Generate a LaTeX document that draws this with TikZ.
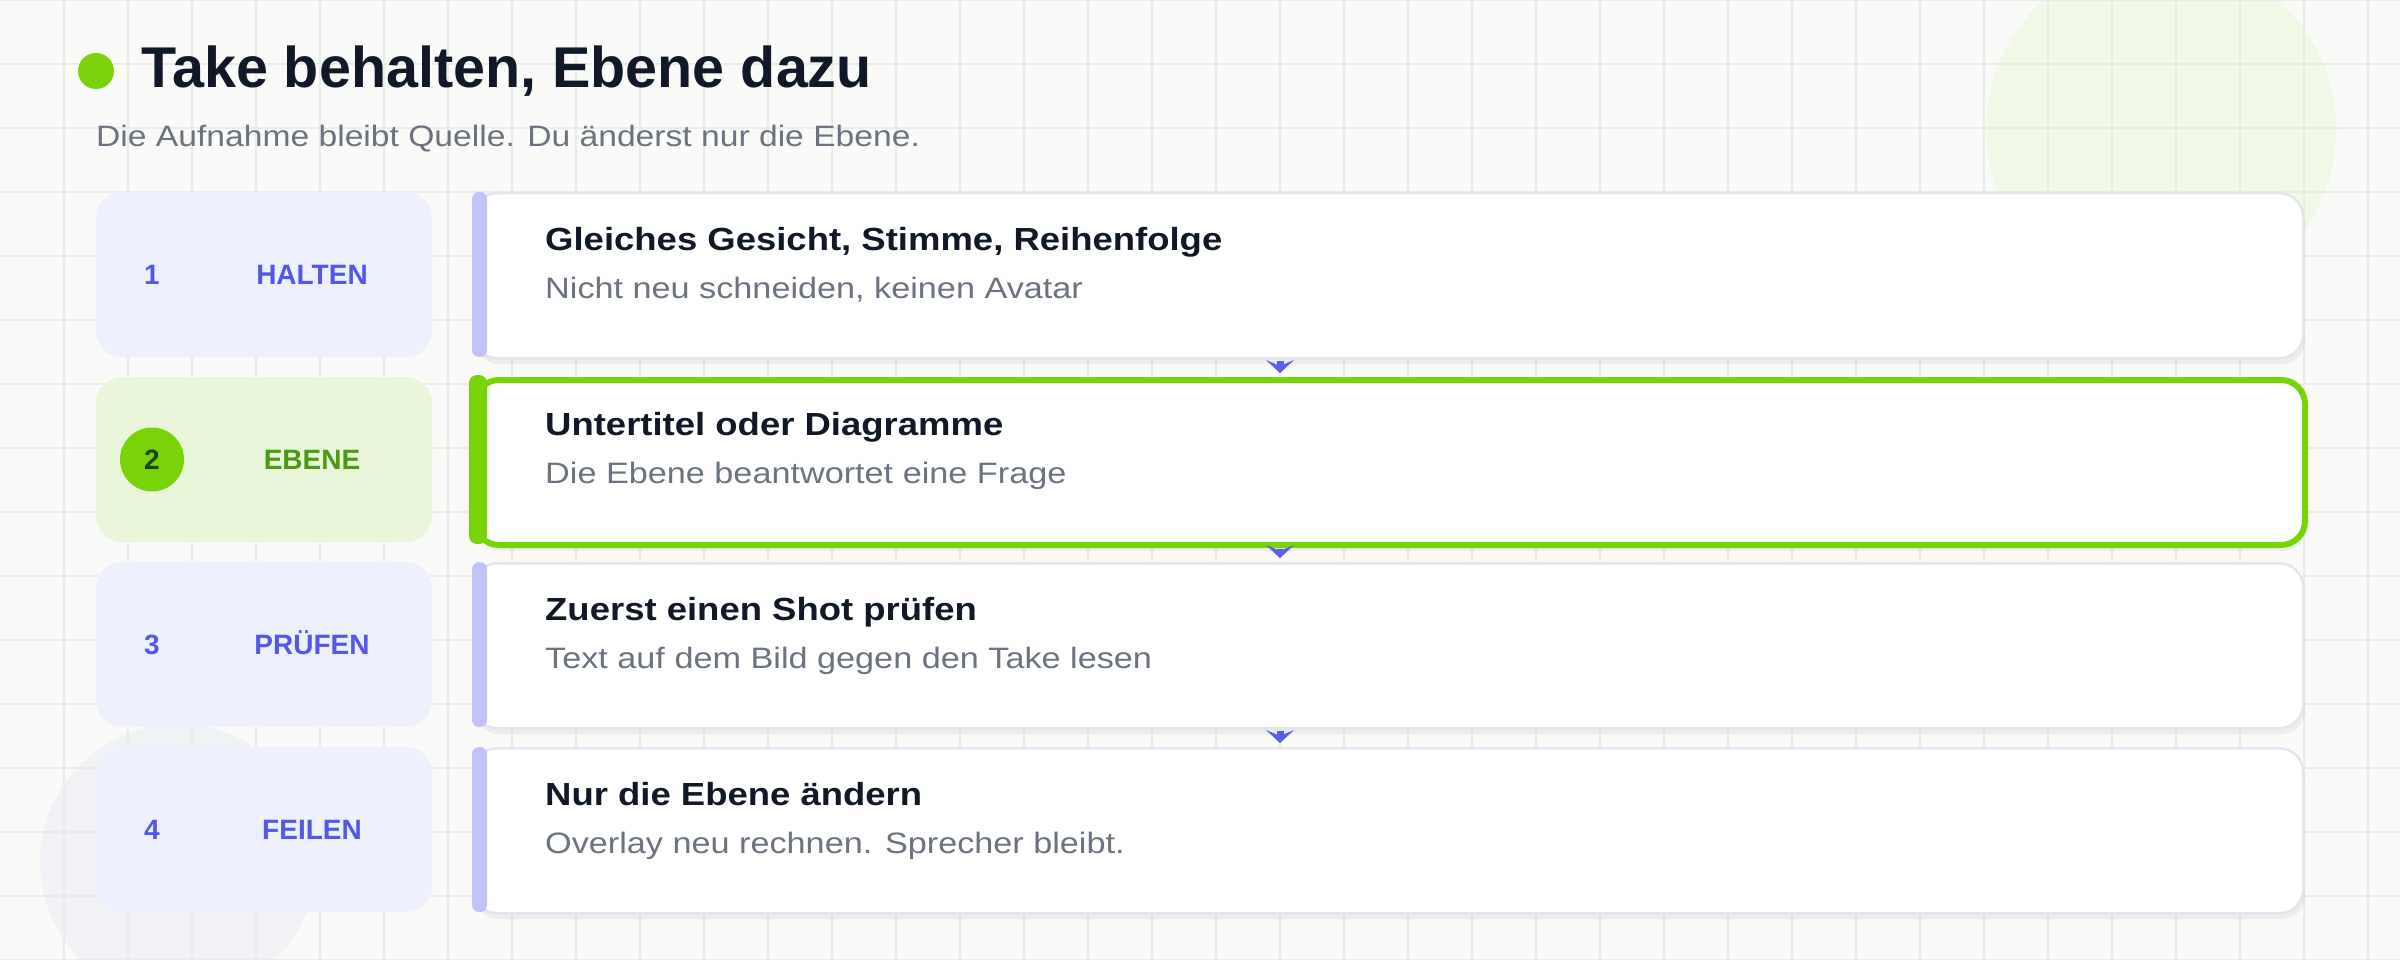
\documentclass[tikz,border=0pt]{standalone}
\usepackage{fontspec}
\setmainfont{Liberation Sans}
\usetikzlibrary{positioning, arrows.meta, shadows}
\definecolor{bgpaper}{RGB}{250, 251, 249}
\definecolor{gridgray}{RGB}{234, 236, 231}
\definecolor{inkdark}{RGB}{17, 24, 39}
\definecolor{inkgray}{RGB}{107, 114, 128}
\definecolor{stepblue}{RGB}{84, 88, 232}
\definecolor{stepfill}{RGB}{238, 240, 254}
\definecolor{barlav}{RGB}{193, 196, 247}
\definecolor{limegreen}{RGB}{120, 212, 8}
\definecolor{limefill}{RGB}{234, 246, 218}
\definecolor{limedark}{RGB}{75, 154, 16}
\definecolor{limeink}{RGB}{30, 67, 6}
\definecolor{cardline}{RGB}{226, 228, 238}
\definecolor{arrowblue}{RGB}{91, 92, 240}
\definecolor{blobgreen}{RGB}{240, 248, 230}
\definecolor{blobgray}{RGB}{241, 242, 246}

\begin{document}
\begin{tikzpicture}[x=1pt, y=-1pt,
  stepbox/.style={rounded corners=26pt, minimum width=336pt, minimum height=165pt, inner sep=0pt, fill=stepfill},
  stepnum/.style={font=\fontsize{28}{30}\selectfont\bfseries, text=stepblue, text height=20pt, text depth=0pt, inner sep=0pt},
  steplabel/.style={stepnum},
  card/.style={draw=cardline, line width=2.5pt, fill=white, rounded corners=24pt, minimum width=1830pt, minimum height=165pt, inner sep=0pt,
    drop shadow={shadow xshift=2pt, shadow yshift=-6pt, fill=black, opacity=0.05}},
  cardtitle/.style={font=\fontsize{32}{34}\selectfont\bfseries\addfontfeatures{FakeStretch=1.14}, text=inkdark, inner sep=0pt, anchor=base west},
  cardsub/.style={font=\fontsize{29.5}{32}\selectfont\addfontfeatures{FakeStretch=1.16}, text=inkgray, inner sep=0pt, anchor=base west},
  flowarrow/.style={draw=arrowblue, line width=7pt, shorten <=1pt, shorten >=4pt, -{Stealth[length=13pt, width=28pt, inset=6pt, line width=0.5pt]}}
]
  \useasboundingbox (0,0) rectangle (2400,960);

  % Paper, blobs and grid
  \fill[bgpaper] (0,0) rectangle (2400,960);
  \fill[blobgreen] (2161,130) circle (175);
  \fill[blobgray] (178,862) circle (138);
  \foreach \gx in {64,128,...,2368} \draw[gridgray, line width=1.5pt] (\gx,0) -- (\gx,960);
  \foreach \gy in {0,64,...,960} \draw[gridgray, line width=1.5pt] (0,\gy) -- (2400,\gy);

  % Heading
  \node[circle, fill=limegreen, minimum size=36pt, inner sep=0pt] (dot) at (96,71) {};
  \node[font=\fontsize{57.5}{60}\selectfont\bfseries, text=inkdark, inner sep=0pt, anchor=base west] (title) at (141,88) {Take behalten, Ebene dazu};
  \node[font=\fontsize{29.5}{32}\selectfont\addfontfeatures{FakeStretch=1.14}, text=inkgray, inner sep=0pt, anchor=base west] (subtitle) at (96,147) {Die Aufnahme bleibt Quelle. Du änderst nur die Ebene.};

  % Step column
  \node[stepbox] (halten) at (264,274.5) {};
  \node[stepnum] (n1) at (152,274.5) {1};
  \node[steplabel] (l1) at (312,274.5) {HALTEN};

  \node[stepbox, fill=limefill] (ebene) at (264,459.5) {};
  \node[circle, fill=limegreen, minimum size=64pt, inner sep=0pt] (n2dot) at (152,459.5) {};
  \node[stepnum, text=limeink] (n2) at (152,459.5) {2};
  \node[steplabel, text=limedark] (l2) at (312,459.5) {EBENE};

  \node[stepbox] (pruefen) at (264,644.5) {};
  \node[stepnum] (n3) at (152,644.5) {3};
  \node[steplabel] (l3) at (312,644.5) {PRÜFEN};

  \node[stepbox] (feilen) at (264,829.5) {};
  \node[stepnum] (n4) at (152,829.5) {4};
  \node[steplabel] (l4) at (312,829.5) {FEILEN};

  % Cards
  \node[card, anchor=north west] (card1) at (472,192) {};
  \fill[barlav, rounded corners=7pt] (card1.north west) rectangle ++(15,165);
  \node[cardtitle] (t1) at (545,250) {Gleiches Gesicht, Stimme, Reihenfolge};
  \node[cardsub] (s1) at (545,298) {Nicht neu schneiden, keinen Avatar};

  \node[card, anchor=north west, draw=limegreen, line width=6pt] (card2) at (472,377) {};
  \fill[limegreen, rounded corners=8pt] ([shift={(-3,-2)}]card2.north west) rectangle ++(18,169);
  \node[cardtitle] (t2) at (545,435) {Untertitel oder Diagramme};
  \node[cardsub] (s2) at (545,483) {Die Ebene beantwortet eine Frage};

  \node[card, anchor=north west] (card3) at (472,562) {};
  \fill[barlav, rounded corners=7pt] (card3.north west) rectangle ++(15,165);
  \node[cardtitle] (t3) at (545,620) {Zuerst einen Shot prüfen};
  \node[cardsub] (s3) at (545,668) {Text auf dem Bild gegen den Take lesen};

  \node[card, anchor=north west] (card4) at (472,747) {};
  \fill[barlav, rounded corners=7pt] (card4.north west) rectangle ++(15,165);
  \node[cardtitle] (t4) at (545,805) {Nur die Ebene ändern};
  \node[cardsub] (s4) at (545,853) {Overlay neu rechnen. Sprecher bleibt.};

  % Arrows between cards
  \coordinate (ax) at (1280,0);
  \draw[flowarrow] (card1.south -| ax) -- (card2.north -| ax);
  \draw[flowarrow] (card2.south -| ax) -- (card3.north -| ax);
  \draw[flowarrow] (card3.south -| ax) -- (card4.north -| ax);
\end{tikzpicture}
\end{document}
